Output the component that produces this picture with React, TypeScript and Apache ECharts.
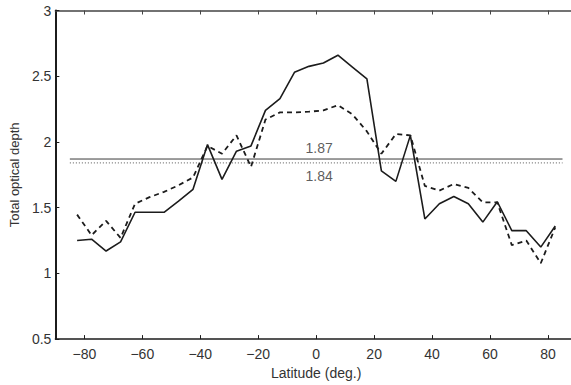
import React, { useEffect, useRef } from "react";
import * as echarts from "echarts";

// Latitude bin centres (degrees)
const latitudes = [
  -82.5, -77.5, -72.5, -67.5, -62.5, -57.5, -52.5, -47.5, -42.5, -37.5,
  -32.5, -27.5, -22.5, -17.5, -12.5, -7.5, -2.5, 2.5, 7.5, 12.5,
  17.5, 22.5, 27.5, 32.5, 37.5, 42.5, 47.5, 52.5, 57.5, 62.5,
  67.5, 72.5, 77.5, 82.5,
];

// Total optical depth, solid curve
const solidDepth = [
  1.25, 1.26, 1.17, 1.24, 1.465, 1.465, 1.465, 1.55, 1.64, 1.98,
  1.715, 1.93, 1.97, 2.24, 2.33, 2.53, 2.575, 2.6, 2.66, 2.57,
  2.48, 1.78, 1.7, 2.05, 1.414, 1.53, 1.585, 1.53, 1.39, 1.545,
  1.325, 1.325, 1.2, 1.36,
];

// Total optical depth, dashed curve
const dashedDepth = [
  1.447, 1.29, 1.4, 1.27, 1.53, 1.58, 1.62, 1.67, 1.73, 1.97,
  1.91, 2.05, 1.81, 2.17, 2.225, 2.225, 2.23, 2.24, 2.28, 2.21,
  2.08, 1.91, 2.06, 2.05, 1.665, 1.63, 1.68, 1.65, 1.54, 1.54,
  1.215, 1.25, 1.077, 1.35,
];

// Global means of the two curves and the latitude span of the mean lines
const solidMean = 1.87;
const dashedMean = 1.84;
const meanSpan = [-85, 85];

const xTicks = [-80, -60, -40, -20, 0, 20, 40, 60, 80];

const FONT = "'Liberation Sans', Arial, Helvetica, sans-serif";
const INK = "#1c1c1c";
const TEXT = "#333333";

const pairs = (ys: number[]) => latitudes.map((x, i) => [x, ys[i]]);

export default function App() {
  const ref = useRef<HTMLDivElement>(null);

  useEffect(() => {
    if (!ref.current) return;
    const chart = echarts.init(ref.current, null, { renderer: "svg" });

    const fmt = (v: number) => String(v).replace("-", "\u2212");

    chart.setOption({
      animation: false,
      backgroundColor: "#ffffff",
      textStyle: { fontFamily: FONT },
      // the plot frame runs past the right edge of the visible window
      grid: { left: 53.5, top: 10.5, right: 3, bottom: 41.5, containLabel: false },
      xAxis: [
        {
          type: "value",
          position: "bottom",
          min: -90,
          max: 90,
          name: "Latitude (deg.)",
          nameLocation: "middle",
          nameGap: 24,
          nameTextStyle: { fontSize: 14, color: TEXT, fontFamily: FONT },
          axisLine: { show: true, onZero: false, lineStyle: { color: INK, width: 1.5 } },
          axisTick: {
            show: true,
            inside: true,
            length: 4,
            customValues: xTicks,
            lineStyle: { color: INK, width: 1 },
          },
          axisLabel: {
            show: true,
            customValues: xTicks,
            formatter: fmt,
            fontSize: 14,
            color: TEXT,
            margin: 8,
            fontFamily: FONT,
          },
          splitLine: { show: false },
        },
        {
          type: "value",
          position: "top",
          min: -90,
          max: 90,
          axisLine: { show: true, onZero: false, lineStyle: { color: "#444", width: 1.5 } },
          axisTick: {
            show: true,
            inside: true,
            length: 4,
            customValues: xTicks,
            lineStyle: { color: "#444", width: 1 },
          },
          axisLabel: { show: false },
          splitLine: { show: false },
        },
      ],
      yAxis: [
        {
          type: "value",
          position: "left",
          min: 0.5,
          max: 3,
          interval: 0.5,
          name: "Total optical depth",
          nameLocation: "middle",
          nameGap: 29,
          nameRotate: 90,
          nameTextStyle: { fontSize: 13, color: TEXT, fontFamily: FONT },
          axisLine: { show: true, onZero: false, lineStyle: { color: INK, width: 2 } },
          axisTick: { show: true, inside: true, length: 4, lineStyle: { color: INK, width: 1 } },
          axisLabel: { fontSize: 14, color: TEXT, margin: 4, fontFamily: FONT },
          splitLine: { show: false },
        },
        {
          type: "value",
          position: "right",
          min: 0.5,
          max: 3,
          interval: 0.5,
          axisLine: { show: true, onZero: false, lineStyle: { color: INK, width: 1.5 } },
          axisTick: { show: false },
          axisLabel: { show: false },
          splitLine: { show: false },
        },
      ],
      series: [
        {
          name: "mean solid",
          type: "line",
          data: meanSpan.map((x) => [x, solidMean]),
          symbol: "none",
          lineStyle: { color: "#3a3a3a", width: 1 },
          z: 1,
        },
        {
          name: "mean dotted",
          type: "line",
          data: meanSpan.map((x) => [x, dashedMean]),
          symbol: "none",
          lineStyle: { color: "#777777", width: 1.2, type: [1, 2] },
          z: 1,
        },
        {
          name: "mean labels",
          type: "scatter",
          data: [
            { value: [0, solidMean], label: { position: "top", distance: 4 } },
            { value: [0, dashedMean], label: { position: "bottom", distance: 6 } },
          ],
          symbolSize: 0,
          silent: true,
          label: {
            show: true,
            formatter: (p: any) => p.value[1].toFixed(2),
            fontSize: 14,
            color: TEXT,
            fontFamily: FONT,
            offset: [3, 0],
          },
          z: 3,
        },
        {
          name: "solid",
          type: "line",
          data: pairs(solidDepth),
          symbol: "none",
          lineStyle: { color: INK, width: 1.6 },
          z: 4,
        },
        {
          name: "dashed",
          type: "line",
          data: pairs(dashedDepth),
          symbol: "none",
          lineStyle: { color: INK, width: 1.8, type: [5, 4] },
          z: 4,
        },
      ],
    });

    return () => chart.dispose();
  }, []);

  return (
    <div
      style={{
        position: "absolute",
        left: 0,
        top: 0,
        width: 571,
        height: 385,
        overflow: "hidden",
      }}
    >
      <div ref={ref} style={{ width: 580, height: 385 }} />
    </div>
  );
}
